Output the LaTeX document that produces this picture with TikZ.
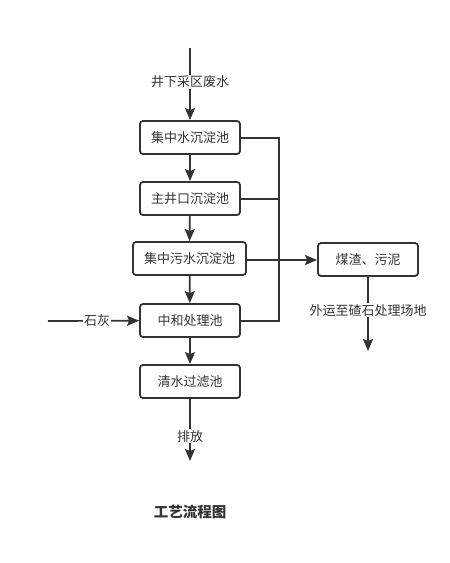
\documentclass[tikz,border=0pt]{standalone}
\usepackage{fontspec}
\setmainfont{Noto Sans CJK SC}
\usetikzlibrary{arrows.meta}
\definecolor{ink}{HTML}{333333}
\tikzset{
  box/.style={draw=ink, line width=1.8pt, rounded corners=3pt, minimum width=100pt, minimum height=33pt, inner sep=0pt, text=ink, font=\fontsize{13}{15}\selectfont},
  conn/.style={draw=ink, line width=1.7pt},
  arr/.style={conn, -{Stealth[length=12pt,width=10pt,inset=2pt]}},
  lbl/.style={fill=white, text=ink, inner sep=1pt, font=\fontsize{13}{15}\selectfont}
}
\begin{document}
\begin{tikzpicture}[x=1pt,y=-1pt]
\useasboundingbox (0,0) rectangle (450,563);
\node[box] (b1) at (190,137.5) {集中水沉淀池};
\node[box] (b2) at (190,198.5) {主井口沉淀池};
\node[box, minimum width=113pt] (b3) at (189.5,258.5) {集中污水沉淀池};
\node[box] (b4) at (190,320.5) {中和处理池};
\node[box] (b5) at (190,381.5) {清水过滤池};
\node[box] (m) at (368,259.5) {煤渣、污泥};
\coordinate (top) at (190,48);
\coordinate (lime) at (48,321);
\coordinate (out) at (190,461);
\coordinate (mout) at (368,351);
\coordinate (bus1) at (279,138);
\coordinate (bus2) at (279,199);
\coordinate (bus3) at (279,260);
\coordinate (bus4) at (279,321);
\draw[arr] (top) -- node[lbl, pos=0.47] {井下采区废水} (b1);
\draw[arr] (b1) -- (b2);
\draw[arr] (b2) -- (b3);
\draw[arr] (b3) -- (b4);
\draw[arr] (b4) -- (b5);
\draw[arr] (b5) -- node[lbl, pos=0.6] {排放} (out);
\draw[arr] (lime) -- node[lbl, pos=0.54] {石灰} (b4);
\draw[conn] (b1.east |- bus1) -- (bus1) -- (bus4) -- (b4.east |- bus4);
\draw[conn] (b2.east |- bus2) -- (bus2);
\draw[arr] (b3.east |- bus3) -- (m.west |- bus3);
\draw[conn, line width=2.6pt] (bus3) -- ([xshift=-14pt]m.west |- bus3);
\draw[arr] (m) -- node[lbl, pos=0.45] {外运至碴石处理场地} (mout);
\node[text=ink, font=\fontsize{14.5}{17}\selectfont\bfseries] (title) at (190,512) {工艺流程图};
\end{tikzpicture}
\end{document}
